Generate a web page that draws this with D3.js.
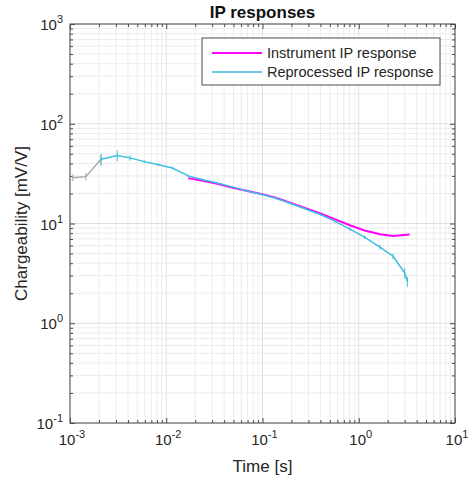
<!DOCTYPE html>
<html>
<head>
<meta charset="utf-8">
<script src="https://cdn.jsdelivr.net/npm/d3@7"></script>
<style>
  body { margin: 0; background: #fff; }
  svg text { font-family: "Liberation Sans", Arial, sans-serif; }
</style>
</head>
<body>
<svg width="472" height="479"></svg>
<script>
// early gates (no legend entry)
var earlyTime = [0.00107, 0.00146, 0.0021];
var earlyValue = [28.8, 29.5, 44];
var earlyErr = [2.2, 2.5, 6];

var procTime = [0.0021, 0.0031, 0.0042, 0.0059, 0.0083, 0.0116, 0.0169, 0.024, 0.034, 0.048, 0.068, 0.097,
                0.14, 0.2, 0.28, 0.4, 0.57, 0.81, 1.15, 1.66, 2.27, 3.0, 3.2];
var procValue = [44, 48, 45.5, 41.7, 38.9, 36, 30, 27.5, 25.5, 23.3, 21.3, 19.6,
                 17.8, 15.8, 14, 12.3, 10.5, 8.8, 7.3, 5.8, 4.7, 3.2, 2.6];
var procErr = [5, 6, 3, 1.5, 1.2, 1, 0.9, 0.7, 0.6, 0.5, 0.5, 0.4,
               0.4, 0.4, 0.3, 0.3, 0.3, 0.3, 0.3, 0.3, 0.3, 0.35, 0.3];

var instTime = [0.0169, 0.024, 0.034, 0.048, 0.068, 0.097, 0.14, 0.2, 0.28, 0.4, 0.57, 0.81, 1.15, 1.66, 2.27, 3.37];
var instValue = [28.5, 26.8, 25, 23, 21.3, 19.8, 18, 16, 14.2, 12.6, 11, 9.6, 8.5, 7.8, 7.5, 7.75];

var xDecades = [-3, -2, -1, 0, 1];
var yDecades = [-1, 0, 1, 2, 3];

var svg = d3.select("svg"),
    margin = {top: 24, right: 17, bottom: 56, left: 70},
    width = +svg.attr("width") - margin.left - margin.right,
    height = +svg.attr("height") - margin.top - margin.bottom;

var x = d3.scaleLog().domain([1e-3, 1e1]).range([0, width]),
    y = d3.scaleLog().domain([1e-1, 1e3]).range([height, 0]);

var g = svg.append("g")
    .attr("transform", "translate(" + margin.left + "," + margin.top + ")");

var axisColor = "#4a4a4a";

// minor + major ticks values
function logTicks(decs) {
  var minor = [], major = [];
  decs.forEach(function(d, i) {
    major.push(Math.pow(10, d));
    if (i < decs.length - 1)
      for (var k = 2; k <= 9; k++) minor.push(k * Math.pow(10, d));
  });
  return {minor: minor, major: major};
}
var xt = logTicks(xDecades), yt = logTicks(yDecades);

// grid
g.append("g").selectAll("line").data(xt.minor).enter().append("line")
    .attr("x1", function(d){return x(d);}).attr("x2", function(d){return x(d);})
    .attr("y1", 0).attr("y2", height)
    .attr("stroke", "#ececec").attr("stroke-width", 1);
g.append("g").selectAll("line").data(yt.minor).enter().append("line")
    .attr("y1", function(d){return y(d);}).attr("y2", function(d){return y(d);})
    .attr("x1", 0).attr("x2", width)
    .attr("stroke", "#ececec").attr("stroke-width", 1);
g.append("g").selectAll("line").data(xt.major).enter().append("line")
    .attr("x1", function(d){return x(d);}).attr("x2", function(d){return x(d);})
    .attr("y1", 0).attr("y2", height)
    .attr("stroke", "#dedede").attr("stroke-width", 1);
g.append("g").selectAll("line").data(yt.major).enter().append("line")
    .attr("y1", function(d){return y(d);}).attr("y2", function(d){return y(d);})
    .attr("x1", 0).attr("x2", width)
    .attr("stroke", "#dedede").attr("stroke-width", 1);

// axes with inward ticks on all sides
function tickAxis(axisFn, scale, t, transform) {
  var a = g.append("g").attr("transform", transform || null);
  a.call(axisFn(scale).tickValues(t.minor).tickSize(-3).tickFormat(""));
  var b = g.append("g").attr("transform", transform || null);
  b.call(axisFn(scale).tickValues(t.major).tickSize(-5).tickFormat(""));
  [a, b].forEach(function(s){
    s.selectAll("path").remove();
    s.selectAll("line").attr("stroke", axisColor);
  });
}
tickAxis(d3.axisBottom, x, xt, "translate(0," + height + ")");
tickAxis(d3.axisTop, x, xt);
tickAxis(d3.axisLeft, y, yt);
tickAxis(d3.axisRight, y, yt, "translate(" + width + ",0)");

g.append("rect").attr("width", width).attr("height", height)
    .attr("fill", "none").attr("stroke", axisColor).attr("stroke-width", 1);

// tick labels with superscripts
function powLabel(sel, exp) {
  sel.append("tspan").text("10");
  sel.append("tspan").attr("dy", -7).attr("font-size", 11).text(exp);
}
xt.major.forEach(function(v, i) {
  var t = g.append("text")
      .attr("x", x(v) + 2).attr("y", height + 22)
      .attr("text-anchor", "middle").attr("font-size", 15).attr("fill", "#262626");
  powLabel(t, xDecades[i]);
});
yt.major.forEach(function(v, i) {
  var t = g.append("text")
      .attr("x", -7).attr("y", y(v) + 6)
      .attr("text-anchor", "end").attr("font-size", 15).attr("fill", "#262626");
  powLabel(t, yDecades[i]);
});

// axis titles
svg.append("text").attr("x", margin.left + width / 2).attr("y", 472)
    .attr("text-anchor", "middle").attr("font-size", 17).attr("fill", "#262626")
    .text("Time [s]");
svg.append("text").attr("transform", "translate(27," + (margin.top + height / 2) + ") rotate(-90)")
    .attr("text-anchor", "middle").attr("font-size", 17).attr("fill", "#262626")
    .text("Chargeability [mV/V]");
svg.append("text").attr("x", margin.left + width / 2).attr("y", 18)
    .attr("text-anchor", "middle").attr("font-size", 17).attr("font-weight", "bold")
    .attr("fill", "#111").text("IP responses");

var line = d3.line()
    .x(function(d){return x(d[0]);})
    .y(function(d){return y(d[1]);});

function drawErrSeries(times, vals, errs, color) {
  var pts = times.map(function(t, i){return [t, vals[i]];});
  g.append("path").datum(pts)
      .attr("d", line).attr("fill", "none")
      .attr("stroke", color).attr("stroke-width", 1.5);
  g.append("g").selectAll("line").data(times).enter().append("line")
      .attr("x1", function(d){return x(d);}).attr("x2", function(d){return x(d);})
      .attr("y1", function(d, i){return y(vals[i] + errs[i]);})
      .attr("y2", function(d, i){return y(Math.max(vals[i] - errs[i], 0.11));})
      .attr("stroke", color).attr("stroke-width", 1);
}

drawErrSeries(earlyTime, earlyValue, earlyErr, "#a6a6a6");

var instPts = instTime.map(function(t, i){return [t, instValue[i]];});
g.append("path").datum(instPts)
    .attr("d", line).attr("fill", "none")
    .attr("stroke", "#ff00ff").attr("stroke-width", 2);

drawErrSeries(procTime, procValue, procErr, "#3dbde0");

// legend
var legend = g.append("g").attr("transform", "translate(132,14)");
legend.append("rect").attr("width", 238).attr("height", 47)
    .attr("fill", "#fff").attr("stroke", "#4a4a4a").attr("stroke-width", 1);
var legendItems = [["Instrument IP response", "#ff00ff", 2], ["Reprocessed IP response", "#3dbde0", 1.5]];
legendItems.forEach(function(d, i) {
  var yy = 15 + i * 19;
  legend.append("line").attr("x1", 10).attr("x2", 60).attr("y1", yy).attr("y2", yy)
      .attr("stroke", d[1]).attr("stroke-width", d[2]);
  legend.append("text").attr("x", 65).attr("y", yy + 5)
      .attr("font-size", 14.5).attr("fill", "#262626").text(d[0]);
});
</script>
</body>
</html>
